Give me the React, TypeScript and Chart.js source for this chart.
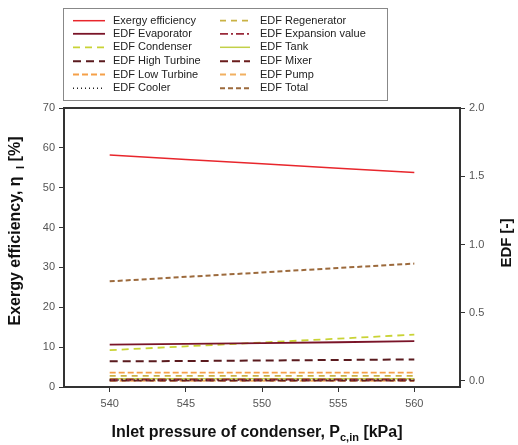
import React, { useEffect, useRef } from "react";
import { Chart, registerables } from "chart.js";

Chart.register(...registerables);

const pressure = [540, 545, 550, 555, 560];
const xTicks = [540, 545, 550, 555, 560];
const rightTicks = [0, 0.5, 1.0, 1.5, 2.0];

const exergyEfficiency = [58.2, 57.1, 56.0, 54.9, 53.8];
const edfEvaporator = [0.266, 0.272, 0.278, 0.284, 0.292];
const edfCondenser = [0.226, 0.254, 0.282, 0.31, 0.34];
const edfHighTurbine = [0.144, 0.146, 0.15, 0.154, 0.158];
const edfLowTurbine = [0.062, 0.062, 0.062, 0.062, 0.062];
const edfCooler = [0.008, 0.008, 0.008, 0.008, 0.008];
const edfRegenerator = [0.038, 0.038, 0.038, 0.038, 0.038];
const edfExpansionValue = [0.011, 0.011, 0.011, 0.011, 0.011];
const edfTank = [0.016, 0.016, 0.016, 0.016, 0.016];
const edfMixer = [0.004, 0.004, 0.004, 0.004, 0.004];
const edfPump = [0.001, 0.001, 0.001, 0.001, 0.001];
const edfTotal = [0.73, 0.763, 0.795, 0.828, 0.86];

const FONT = "'Liberation Sans', Arial, sans-serif";

function pts(vals: number[]) {
  return pressure.map((x, i) => ({ x, y: vals[i] }));
}

const overlay = {
  id: "overlay",
  afterDraw(chart: any) {
    const { ctx, chartArea } = chart;
    const { left, right, top, bottom } = chartArea;
    ctx.save();
    // plot frame
    ctx.strokeStyle = "#333";
    ctx.lineWidth = 2;
    ctx.setLineDash([]);
    ctx.strokeRect(left, top, right - left, bottom - top);

    // legend box
    ctx.strokeStyle = "#888";
    ctx.lineWidth = 1;
    ctx.strokeRect(63.5, 8.5, 324, 92);
    const rows = [20.7, 33.8, 47.3, 61.3, 74.5, 88.3];
    ctx.font = "11px " + FONT;
    ctx.textBaseline = "middle";
    ctx.textAlign = "left";
    chart.data.datasets.forEach((ds: any, i: number) => {
      const col = i < 6 ? 0 : 1;
      const y = rows[i % 6];
      const x0 = col === 0 ? 73 : 220;
      const x1 = col === 0 ? 105 : 250;
      const tx = col === 0 ? 113 : 260;
      ctx.strokeStyle = ds.borderColor;
      ctx.lineWidth = ds.borderWidth;
      ctx.setLineDash(ds.borderDash || []);
      ctx.beginPath();
      ctx.moveTo(x0, y);
      ctx.lineTo(x1, y);
      ctx.stroke();
      ctx.setLineDash([]);
      ctx.fillStyle = "#222";
      ctx.fillText(ds.label, tx, y);
    });

    // axis titles
    ctx.fillStyle = "#111";
    const drawParts = (
      parts: { t: string; sub?: boolean }[],
      cx: number,
      cy: number,
      rot: number,
      size: number
    ) => {
      ctx.save();
      ctx.translate(cx, cy);
      ctx.rotate(rot);
      const big = "bold " + size + "px " + FONT;
      const small = "bold " + Math.round(size * 0.68) + "px " + FONT;
      let total = 0;
      parts.forEach((p) => {
        ctx.font = p.sub ? small : big;
        total += ctx.measureText(p.t).width;
      });
      let x = -total / 2;
      ctx.textAlign = "left";
      ctx.textBaseline = "middle";
      parts.forEach((p) => {
        ctx.font = p.sub ? small : big;
        ctx.fillText(p.t, x, p.sub ? size * 0.3 : 0);
        x += ctx.measureText(p.t).width;
      });
      ctx.restore();
    };
    drawParts(
      [{ t: "Exergy efficiency, η " }, { t: " I", sub: true }, { t: " [%]" }],
      16,
      231,
      -Math.PI / 2,
      16
    );
    drawParts(
      [{ t: "Inlet pressure of condenser, P" }, { t: "c,in", sub: true }, { t: " [kPa]" }],
      257,
      433,
      0,
      16
    );
    drawParts([{ t: "EDF [-]" }], 507, 243, -Math.PI / 2, 15);
    ctx.restore();
  },
};

export default function App() {
  const ref = useRef<HTMLCanvasElement>(null);
  useEffect(() => {
    if (!ref.current) return;
    Chart.defaults.font.family = FONT;
    const mk = (label: string, vals: number[], color: string, width: number, dash: number[], axis: string) => ({
      label,
      data: pts(vals),
      borderColor: color,
      backgroundColor: color,
      borderWidth: width,
      borderDash: dash,
      pointRadius: 0,
      yAxisID: axis,
      fill: false,
      tension: 0,
    });
    const chart = new Chart(ref.current, {
      type: "line",
      data: {
        datasets: [
          mk("Exergy efficiency", exergyEfficiency, "#e8262c", 1.5, [], "y"),
          mk("EDF Evaporator", edfEvaporator, "#7a1428", 1.8, [], "y1"),
          mk("EDF Condenser", edfCondenser, "#c9d335", 1.8, [7, 5], "y1"),
          mk("EDF High Turbine", edfHighTurbine, "#5a1a1e", 2, [8, 5], "y1"),
          mk("EDF Low Turbine", edfLowTurbine, "#f5a048", 1.8, [6, 3], "y1"),
          mk("EDF Cooler", edfCooler, "#222222", 1.5, [1, 3], "y1"),
          mk("EDF Regenerator", edfRegenerator, "#c9b244", 1.8, [6, 5], "y1"),
          mk("EDF Expansion value", edfExpansionValue, "#9a2a3a", 1.8, [8, 3, 2, 3], "y1"),
          mk("EDF Tank", edfTank, "#c2d048", 1.5, [], "y1"),
          mk("EDF Mixer", edfMixer, "#6a1c1c", 2, [8, 4], "y1"),
          mk("EDF Pump", edfPump, "#f2b060", 1.8, [6, 4], "y1"),
          mk("EDF Total", edfTotal, "#9c6a3c", 2, [5, 3], "y1"),
        ],
      },
      options: {
        responsive: false,
        animation: false,
        layout: { padding: { top: 108, left: 0, right: 0, bottom: 0 } },
        plugins: { legend: { display: false }, tooltip: { enabled: false } },
        scales: {
          x: {
            type: "linear",
            min: 537,
            max: 563,
            afterBuildTicks: (s: any) => {
              s.ticks = xTicks.map((v) => ({ value: v }));
            },
            afterFit: (s: any) => {
              s.height = 58;
            },
            grid: { drawOnChartArea: false, tickLength: 5, color: "#333" },
            border: { display: false },
            ticks: { color: "#555", font: { size: 11 }, padding: 5, maxRotation: 0 },
          },
          y: {
            position: "left",
            min: 0,
            max: 70,
            ticks: { stepSize: 10, color: "#555", font: { size: 11 }, padding: 4 },
            afterFit: (s: any) => {
              s.width = 64;
            },
            grid: { drawOnChartArea: false, tickLength: 5, color: "#333" },
            border: { display: false },
          },
          y1: {
            position: "right",
            min: -0.044,
            max: 2.0,
            afterBuildTicks: (s: any) => {
              s.ticks = rightTicks.map((v) => ({ value: v }));
            },
            ticks: {
              color: "#555",
              font: { size: 11 },
              padding: 4,
              callback: (v: any) => Number(v).toFixed(1),
            },
            afterFit: (s: any) => {
              s.width = 58;
            },
            grid: { drawOnChartArea: false, tickLength: 5, color: "#333" },
            border: { display: false },
          },
        },
      },
      plugins: [overlay],
    } as any);
    return () => chart.destroy();
  }, []);
  return (
    <div style={{ position: "absolute", left: 0, top: 0, width: 518, height: 445, background: "#fff" }}>
      <canvas ref={ref} width={518} height={445} style={{ display: "block" }} />
    </div>
  );
}
